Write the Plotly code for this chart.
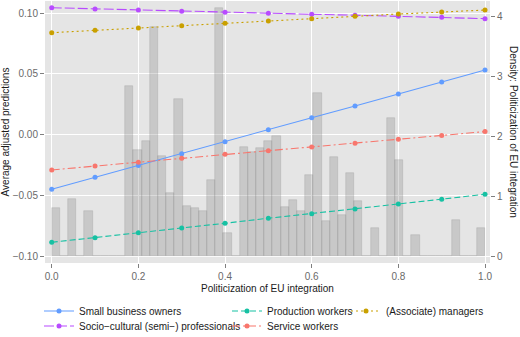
import plotly.graph_objects as go

# ---------------- data ----------------
x_points = [0.0, 0.1, 0.2, 0.3, 0.4, 0.5, 0.6, 0.7, 0.8, 0.9, 1.0]

small_business = [-0.0450, -0.0351, -0.0255, -0.0157, -0.0058, 0.0041, 0.0140, 0.0236, 0.0335, 0.0434, 0.0533]
production = [-0.0887, -0.0849, -0.0808, -0.0769, -0.0730, -0.0689, -0.0651, -0.0612, -0.0571, -0.0532, -0.0491]
managers = [0.0840, 0.0860, 0.0879, 0.0898, 0.0918, 0.0937, 0.0956, 0.0975, 0.0994, 0.1010, 0.1027]
socio_cultural = [0.1046, 0.1036, 0.1027, 0.1017, 0.1008, 0.1000, 0.0992, 0.0984, 0.0975, 0.0967, 0.0956]
service = [-0.0291, -0.0258, -0.0228, -0.0195, -0.0162, -0.0132, -0.0101, -0.0071, -0.0038, -0.0008, 0.0025]

# histogram: 53 bins over [0, 1], density per bin
n_bins = 53
hist_density = [
    0.81, 0.0, 0.96, 0.0, 0.76, 0.0, 0.0, 0.0, 0.0, 2.84,
    1.77, 1.92, 3.82, 1.67, 1.06, 2.62, 0.84, 0.81, 0.75, 1.27,
    4.15, 0.39, 0.0, 1.82, 1.74, 1.81, 1.92, 2.01, 0.82, 0.93,
    0.76, 1.35, 2.73, 0.59, 1.65, 0.69, 1.38, 0.92, 0.0, 0.46,
    0.0, 2.31, 1.61, 0.0, 0.35, 0.0, 0.0, 0.0, 0.0, 0.60,
    0.0, 0.0, 0.46,
]
bin_width = 1.0 / n_bins
bin_centers = [(i + 0.5) * bin_width for i in range(n_bins)]

x_ticks = [0.0, 0.2, 0.4, 0.6, 0.8, 1.0]
x_ticktext = ["0.0", "0.2", "0.4", "0.6", "0.8", "1.0"]
y_ticks = [-0.10, -0.05, 0.0, 0.05, 0.10]
y_ticktext = ["\u22120.10", "\u22120.05", "0.00", "0.05", "0.10"]
dens_ticks = [0, 1, 2, 3, 4]

# ---------------- styling ----------------
FONT = "Liberation Sans, Arial, sans-serif"
TICK_COL = "#6a6a6a"
TITLE_COL = "#1a1a1a"

series = [
    ("Small business owners", small_business, "#619CFF", "solid", "legend"),
    ("Socio\u2212cultural (semi\u2212) professionals", socio_cultural, "#B84BFF", "10px,3px", "legend2"),
    ("Production workers", production, "#17C1A3", "6px,3px", "legend3"),
    ("Service workers", service, "#F8766D", "8px,3px,2px,3px", "legend4"),
    ("(Associate) managers", managers, "#C9A000", "2px,3px", "legend5"),
]

fig = go.Figure()

fig.add_trace(go.Bar(
    x=bin_centers, y=hist_density, width=bin_width,
    marker=dict(color="rgba(127,127,127,0.28)",
                line=dict(color="rgba(110,110,110,0.30)", width=0.6)),
    yaxis="y", showlegend=False, hoverinfo="skip",
))

for name, vals, col, dash, leg in series:
    fig.add_trace(go.Scatter(
        x=x_points, y=vals, mode="lines+markers", name=name,
        line=dict(color=col, width=1.1, dash=dash),
        marker=dict(color=col, size=5),
        yaxis="y2", legend=leg,
    ))

W, H = 520, 337
ml, mr, mt, mb = 45, 30, 1, 74
pw = W - ml - mr
ph = H - mt - mb


def px_x(px):
    return (px - ml) / pw


def px_y(py):
    return (H - mb - py) / ph


def leg(px, py):
    return dict(x=px_x(px), y=px_y(py), xanchor="left", yanchor="middle",
                orientation="v", itemwidth=30,
                font=dict(family=FONT, size=10, color=TITLE_COL),
                bgcolor="rgba(0,0,0,0)", borderwidth=0)


text_offset = 40
fig.update_layout(
    width=W, height=H,
    margin=dict(l=ml, r=mr, t=mt, b=mb, autoexpand=False),
    paper_bgcolor="white",
    plot_bgcolor="#E5E5E5",
    font=dict(family=FONT, size=10, color=TITLE_COL),
    bargap=0,
    xaxis=dict(
        range=[-0.0155, 1.0115], tickvals=x_ticks, ticktext=x_ticktext,
        showgrid=True, gridcolor="white", gridwidth=1.1, zeroline=False,
        ticks="outside", ticklen=4, tickcolor="#7f7f7f", tickwidth=1,
        tickfont=dict(family=FONT, size=10, color=TICK_COL),
        title=dict(text="Politicization of EU integration", standoff=3,
                   font=dict(family=FONT, size=10, color=TITLE_COL)),
        showline=False,
    ),
    yaxis=dict(
        side="right", range=[-0.117, 4.262], tickvals=dens_ticks,
        showgrid=False, zeroline=False,
        ticks="outside", ticklen=4, tickcolor="#7f7f7f", tickwidth=1,
        tickfont=dict(family=FONT, size=10, color=TICK_COL),
    ),
    yaxis2=dict(
        side="left", overlaying="y", anchor="x",
        range=[-0.10577, 0.11013], tickvals=y_ticks, ticktext=y_ticktext,
        showgrid=True, gridcolor="white", gridwidth=1.1, zeroline=False,
        ticks="outside", ticklen=4, tickcolor="#7f7f7f", tickwidth=1,
        tickfont=dict(family=FONT, size=10, color=TICK_COL),
        title=dict(text="Average adjusted predictions", standoff=4,
                   font=dict(family=FONT, size=10, color=TITLE_COL)),
    ),
    annotations=[dict(
        text="Density: Politicization of EU integration",
        xref="paper", yref="paper", x=px_x(514), y=px_y(132),
        xanchor="center", yanchor="middle", textangle=90, showarrow=False,
        font=dict(family=FONT, size=10, color=TITLE_COL),
    )],
    legend=leg(79 - text_offset, 311),
    legend2=leg(79 - text_offset, 326),
    legend3=leg(267 - text_offset, 311),
    legend4=leg(267 - text_offset, 326),
    legend5=leg(386 - text_offset, 311),
)

fig.write_html("out.html",
               config={"displayModeBar": False},
               post_script="document.body.style.margin='0px';document.body.style.overflow='hidden';")
